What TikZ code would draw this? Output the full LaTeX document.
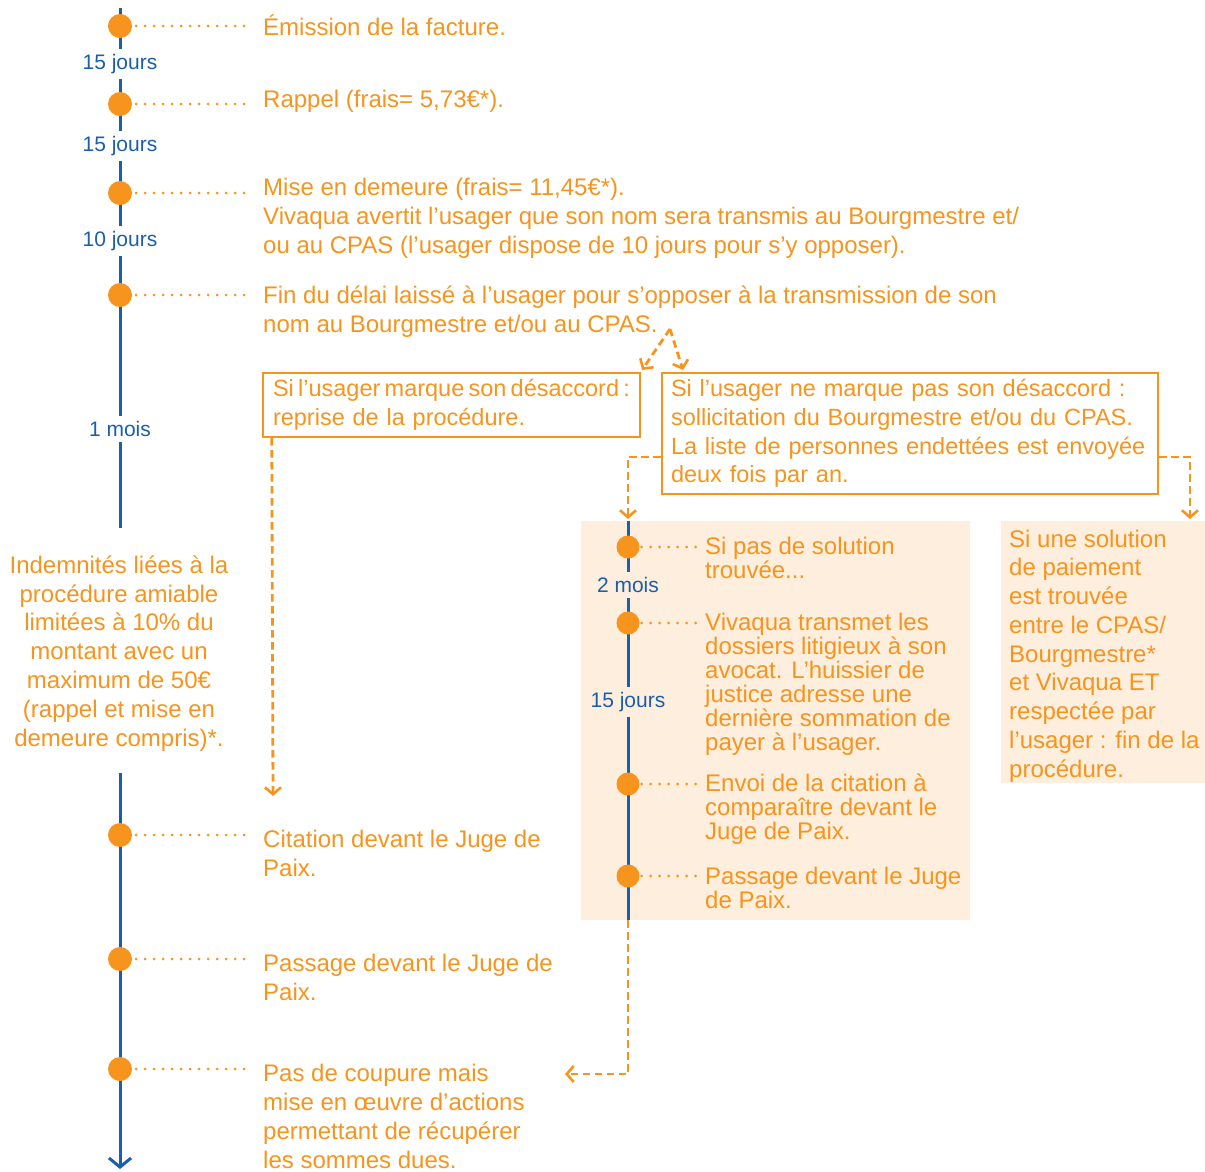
\documentclass[tikz,border=0pt]{standalone}
\usepackage{fontspec}
\setmainfont{Liberation Sans}
\usetikzlibrary{arrows.meta}
\definecolor{org}{HTML}{F7941D}
\definecolor{blu}{HTML}{1B5FAA}
\definecolor{pch}{HTML}{FDEEDD}
\begin{document}
\begin{tikzpicture}[x=1pt,y=-1pt,
  txt/.style={text=org,font=\fontsize{24}{29}\selectfont,align=left,anchor=base west,inner sep=0pt},
  stxt/.style={text=org,font=\fontsize{24}{24}\selectfont,align=left,anchor=base west,inner sep=0pt},
  durlbl/.style={text=blu,font=\fontsize{21}{24}\selectfont,fill=white,inner xsep=0pt,inner ysep=5pt},
  evdot/.style={circle,fill=org,minimum size=24pt,inner sep=0pt},
  dotline/.style={org,line width=3pt,line cap=round,dash pattern=on 0pt off 9pt},
  dsh/.style={org,line width=2.8pt,dash pattern=on 7.5pt off 4.5pt,-{Straight Barb[length=7pt,width=16pt,line width=2.6pt]}},
  bx/.style={draw=org,line width=2.4pt,text=org,font=\fontsize{23.5}{28.7}\selectfont,align=left,inner sep=0pt},
  tline/.style={blu,line width=3pt}]
\useasboundingbox (0,0) rectangle (1205,1171);
% backgrounds
\fill[pch] (581,521) rectangle (970,920);
\fill[pch] (1001,521) rectangle (1205,783);
% main timeline
\coordinate (m0) at (120,8);
\coordinate (m1) at (120,528);
\coordinate (m2) at (120,773);
\coordinate (m3) at (120,1169);
\draw[tline] (m0) -- (m1);
\draw[tline,-{Straight Barb[length=9pt,width=22pt,line width=3pt]}] (m2) -- (m3);
% inner timeline
\coordinate (n0) at (628,521);
\coordinate (n1) at (628,920);
\draw[tline] (n0) -- (n1);
% durations
\node[durlbl] (d1) at (120,64) {15 jours};
\node[durlbl] (d2) at (120,146) {15 jours};
\node[durlbl] (d3) at (120,241) {10 jours};
\node[durlbl] (d4) at (120,429) {1 mois};
\node[durlbl,fill=pch] (d5) at (628,585) {2 mois};
\node[durlbl,fill=pch] (d6) at (628,702) {15 jours};
% events main
\node[evdot] (e1) at (120,26) {};
\node[evdot] (e2) at (120,104) {};
\node[evdot] (e3) at (120,193) {};
\node[evdot] (e4) at (120,295) {};
\node[evdot] (e5) at (120,835) {};
\node[evdot] (e6) at (120,959) {};
\node[evdot] (e7) at (120,1069) {};
\node[txt] (t1) at (263,35) {Émission de la facture.};
\node[txt] (t2) at (263,107) {Rappel (frais= 5,73€*).};
\node[txt] (t3) at (263,253) {Mise en demeure (frais= 11,45€*).\\Vivaqua avertit l'usager que son nom sera transmis au Bourgmestre et/\\ou au CPAS (l'usager dispose de 10 jours pour s'y opposer).};
\node[txt] (t4) at (263,332) {Fin du délai laissé à l'usager pour s'opposer à la transmission de son\\nom au Bourgmestre et/ou au CPAS.};
\node[txt] (t5) at (263,876) {Citation devant le Juge de\\Paix.};
\node[txt] (t6) at (263,1000) {Passage devant le Juge de\\Paix.};
\node[txt] (t7) at (263,1168) {Pas de coupure mais\\mise en œuvre d'actions\\permettant de récupérer\\les sommes dues.};
\foreach \e/\t in {e1/t1,e2/t2,e3/t3,e4/t4,e5/t5,e6/t6,e7/t7}
  \draw[dotline,shorten <=4pt] (\e.east) -- ([xshift=-18pt]\e.east -| \t.west);
% left note
\node[txt,font=\fontsize{24}{28.8}\selectfont,anchor=base,align=center] (note) at (119,746) {Indemnités liées à la\\procédure amiable\\limitées à 10\% du\\montant avec un\\maximum de 50€\\(rappel et mise en\\demeure compris)*.};
% boxes
\node[bx,text width=357pt,minimum width=377pt,minimum height=64pt] (b1) at (451.5,405) {\hbox to 357pt{\spaceskip=1pt plus 30pt minus 1pt Si l'usager marque son désaccord :}\\reprise de la procédure.};
\node[bx,text width=478pt,minimum width=496pt,minimum height=121pt] (b2) at (910,433.5) {Si l'usager ne marque pas son désaccord :\\sollicitation du Bourgmestre et/ou du CPAS.\\La liste de personnes endettées est envoyée\\deux fois par an.};
% arrows to boxes
\coordinate (ap) at (670,329);
\coordinate (b1tip) at (642,370);
\coordinate (b2tip) at (683,370);
\draw[dsh] (ap) -- (b1tip);
\draw[dsh] (ap) -- (b2tip);
\coordinate (c3) at (273,796);
\draw[dsh] ([xshift=10pt]b1.south west) -- (c3);
\coordinate (c4) at (628,519);
\coordinate (c5) at (1190,519);
\draw[dsh] ([yshift=-23.5pt]b2.west) -| (c4);
\draw[dsh] ([yshift=-23.5pt]b2.east) -| (c5);
\coordinate (c7) at (565,1074);
\draw[dsh] (n1) |- (c7);
% inner events
\node[evdot,minimum size=23pt] (i1) at (628,547) {};
\node[evdot,minimum size=23pt] (i2) at (628,623) {};
\node[evdot,minimum size=23pt] (i3) at (628,784) {};
\node[evdot,minimum size=23pt] (i4) at (628,876) {};
\node[stxt] (s1) at (705,578) {Si pas de solution\\trouvée...};
\node[stxt] (s2) at (705,750) {Vivaqua transmet les\\dossiers litigieux à son\\avocat. L'huissier de\\justice adresse une\\dernière sommation de\\payer à l'usager.};
\node[stxt] (s3) at (705,839) {Envoi de la citation à\\comparaître devant le\\Juge de Paix.};
\node[stxt] (s4) at (705,908) {Passage devant le Juge\\de Paix.};
\foreach \e/\t in {i1/s1,i2/s2,i3/s3,i4/s4}
  \draw[dotline,shorten <=2pt] (\e.east) -- ([xshift=-5pt]\e.east -| \t.west);
% right note
\node[txt,font=\fontsize{24}{28.75}\selectfont] (rn) at (1009,777) {Si une solution\\de paiement\\est trouvée\\entre le CPAS/\\Bourgmestre*\\et Vivaqua ET\\respectée par\\l'usager : fin de la\\procédure.};
\end{tikzpicture}
\end{document}
